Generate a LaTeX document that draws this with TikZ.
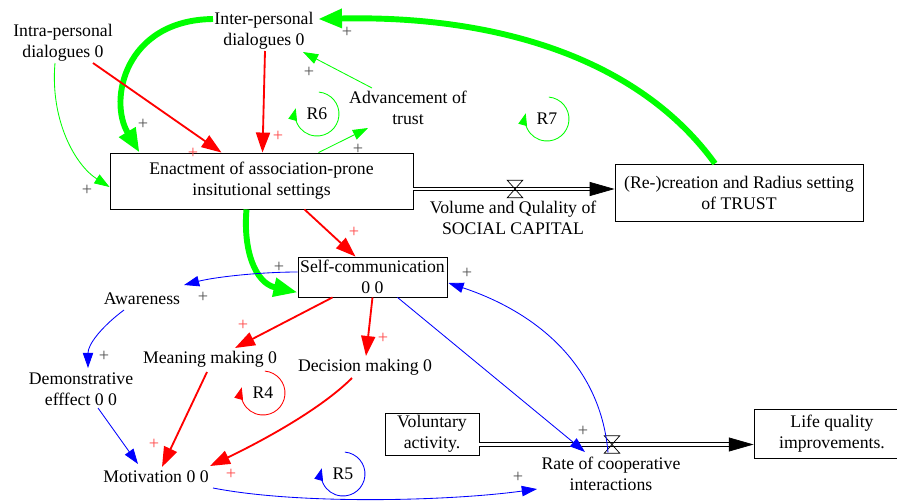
\documentclass[tikz,border=0pt]{standalone}
\usepackage{fontspec}
\setmainfont{Liberation Serif}
\usetikzlibrary{arrows.meta,calc,positioning}
\definecolor{linkgreen}{HTML}{00FF00}
\definecolor{linkred}{HTML}{FF0000}
\definecolor{linkblue}{HTML}{0000FF}
\definecolor{polgray}{HTML}{505050}
\definecolor{polred}{HTML}{FF4848}
\tikzset{
  var/.style={align=center,font=\fontsize{12.6}{15}\selectfont,inner sep=1pt},
  stock/.style={var,draw,line width=0.6pt},
  valve/.style={inner sep=0pt,minimum width=0.375cm,minimum height=0.425cm},
  valveline/.style={line width=0.5pt},
  pipe/.style={draw=black,double=white,double distance=2pt,line width=0.5pt},
  pipetip/.style={line width=0.5pt,-{Triangle[length=0.62cm,width=0.35cm]}},
  greenthick/.style={linkgreen,line width=4.2pt,-{Triangle[length=0.6cm,width=0.45cm]}},
  greenthin/.style={linkgreen,line width=0.6pt,-{Triangle[length=0.38cm,width=0.26cm]}},
  redlink/.style={linkred,line width=1.3pt,-{Triangle[length=0.5cm,width=0.35cm]}},
  bluelink/.style={linkblue,line width=0.6pt,-{Triangle[length=0.38cm,width=0.26cm]}},
  loopline/.style={line width=0.6pt,-{Triangle[length=0.3cm,width=0.22cm]}},
  plusg/.style={text=polgray,font=\fontsize{13}{13}\selectfont,inner sep=0pt},
  plusr/.style={plusg,text=polred}
}
\begin{document}
\begin{tikzpicture}[x=0.025cm,y=-0.025cm]
\useasboundingbox (0,0) rectangle (897,501);

\node[var] (intra) at (63,43) {Intra-personal\\dialogues 0};
\node[var] (inter) at (264,31) {Inter-personal\\dialogues 0};
\node[var] (advtrust) at (408,108) {Advancement of\\trust};
\node[stock,minimum width=7.575cm,minimum height=1.4cm] (enact) at (261.5,181) {Enactment of association-prone\\insitutional settings};
\node[stock,minimum width=6.2cm,minimum height=1.425cm] (trust) at (739,192.5) {(Re-)creation and Radius setting\\of TRUST};
\node[valve] (volvalve) at (515,189) {};
\node[var] (volume) at (513,218) {Volume and Qulality of\\SOCIAL CAPITAL};
\node[stock,minimum width=3.725cm,minimum height=1cm] (selfcomm) at (372.5,277) {Self-communication\\0 0};
\node[var] (aware) at (142,299) {Awareness};
\node[var] (demo) at (81,389) {Demonstrative\\efffect 0 0};
\node[var] (meaning) at (210,359) {Meaning making 0};
\node[var] (decision) at (365,367) {Decision making 0};
\node[var] (motiv) at (156,477) {Motivation 0 0};
\node[stock,minimum width=2.35cm,minimum height=1.05cm] (volunt) at (432,434) {Voluntary\\activity.};
\node[stock,minimum width=3.9cm,minimum height=1.225cm] (life) at (832,433.5) {Life quality\\improvements.};
\node[valve] (ratevalve) at (612,444.5) {};
\node[var] (rate) at (611,474) {Rate of cooperative\\interactions};

\draw[pipe] (enact.east |- volvalve) -- ($(trust.west |- volvalve)+(-24,0)$);
\draw[pipetip] ($(trust.west |- volvalve)+(-25,0)$) -- (trust.west |- volvalve);
\draw[valveline] (volvalve.north west) -- (volvalve.north east) -- (volvalve.south west) -- (volvalve.south east) -- cycle;
\draw[pipe] (volunt.east |- ratevalve) -- ($(life.west |- ratevalve)+(-24,0)$);
\draw[pipetip] ($(life.west |- ratevalve)+(-25,0)$) -- (life.west |- ratevalve);
\draw[valveline] (ratevalve.north west) -- (ratevalve.north east) -- (ratevalve.south west) -- (ratevalve.south east) -- cycle;

\draw[greenthick] ($(inter)+(-51,-12)$) .. controls (125,20) and (108,100) .. ($(enact.north west)+(30,0)$);
\draw[greenthick] ($(trust.north)+(-24,0)$) .. controls (640,60) and (500,15) .. ($(inter)+(54,-12)$);
\draw[greenthick] ($(enact.south)+(-15,0)$) .. controls (243,250) and (255,283) .. ($(selfcomm.south west)+(0,-5)$);
\draw[greenthin] ($(intra)+(-8,20)$) .. controls (50,120) and (75,165) .. ($(enact.west)+(0,6)$);
\draw[greenthin] ($(advtrust)+(-36,-20)$) -- ($(inter)+(39,21)$);
\draw[greenthin] ($(enact.north)+(57,0)$) -- ($(advtrust)+(-40,20)$);

\draw[redlink] ($(intra)+(30,20)$) -- ($(enact.north)+(-40,0)$);
\draw[redlink] ($(inter)+(1,20)$) -- ($(enact.north)+(1,0)$);
\draw[redlink] ($(enact.south)+(43,0)$) -- ($(selfcomm.north)+(-17,0)$);
\draw[redlink] ($(selfcomm.south)+(-40,0)$) -- ($(meaning)+(25,-11)$);
\draw[redlink] (selfcomm.south) -- ($(decision)+(1,-11)$);
\draw[redlink] ($(meaning)+(-3,13)$) -- ($(motiv)+(6,-10)$);
\draw[redlink] ($(decision)+(-13,11)$) .. controls (320,410) and (260,442) .. ($(motiv)+(54,-11)$);

\draw[bluelink] ($(selfcomm.west)+(0,-5)$) .. controls (260,272) and (215,277) .. ($(aware)+(42,-14)$);
\draw[bluelink] ($(aware)+(-18,11)$) .. controls (100,328) and (88,345) .. ($(demo)+(7,-21)$);
\draw[bluelink] ($(demo)+(17,19)$) -- ($(motiv)+(-18,-13)$);
\draw[bluelink] ($(motiv)+(57,11)$) .. controls (300,505) and (450,501) .. ($(rate)+(-74,15)$);
\draw[bluelink] ($(selfcomm.south)+(25,0)$) -- ($(rate)+(-26,-22)$);
\draw[bluelink] ($(ratevalve)+(-4,8)$) .. controls (600,360) and (530,310) .. ($(selfcomm.east)+(1,6)$);

\node[var] (r6) at (317,114) {R6};
\node[var] (r7) at (547,119) {R7};
\node[var] (r4) at (263,393) {R4};
\node[var] (r5) at (343,474) {R5};
\draw[loopline,linkgreen] ([shift={(-85:22)}]r6.center) arc[start angle=-85,end angle=195,radius=22];
\draw[loopline,linkgreen] ([shift={(-85:22)}]r7.center) arc[start angle=-85,end angle=195,radius=22];
\draw[loopline,linkred] ([shift={(-85:22)}]r4.center) arc[start angle=-85,end angle=195,radius=22];
\draw[loopline,linkblue] ([shift={(-85:22)}]r5.center) arc[start angle=-85,end angle=195,radius=22];

\node[plusg] (p1) at (347,32) {+};
\node[plusg] (p2) at (309,72) {+};
\node[plusg] (p3) at (143,124) {+};
\node[plusg] (p4) at (358,149) {+};
\node[plusg] (p5) at (87,190) {+};
\node[plusg] (p6) at (279,267) {+};
\node[plusg] (p7) at (203,297) {+};
\node[plusg] (p8) at (104,356) {+};
\node[plusg] (p9) at (467,273) {+};
\node[plusg] (p10) at (583,431) {+};
\node[plusg] (p11) at (518,477) {+};
\node[plusr] (p12) at (193,153) {+};
\node[plusr] (p13) at (278,136) {+};
\node[plusr] (p14) at (354,232) {+};
\node[plusr] (p15) at (243,325) {+};
\node[plusr] (p16) at (383,338) {+};
\node[plusr] (p17) at (154,444) {+};
\node[plusr] (p18) at (231,474) {+};
\end{tikzpicture}
\end{document}
